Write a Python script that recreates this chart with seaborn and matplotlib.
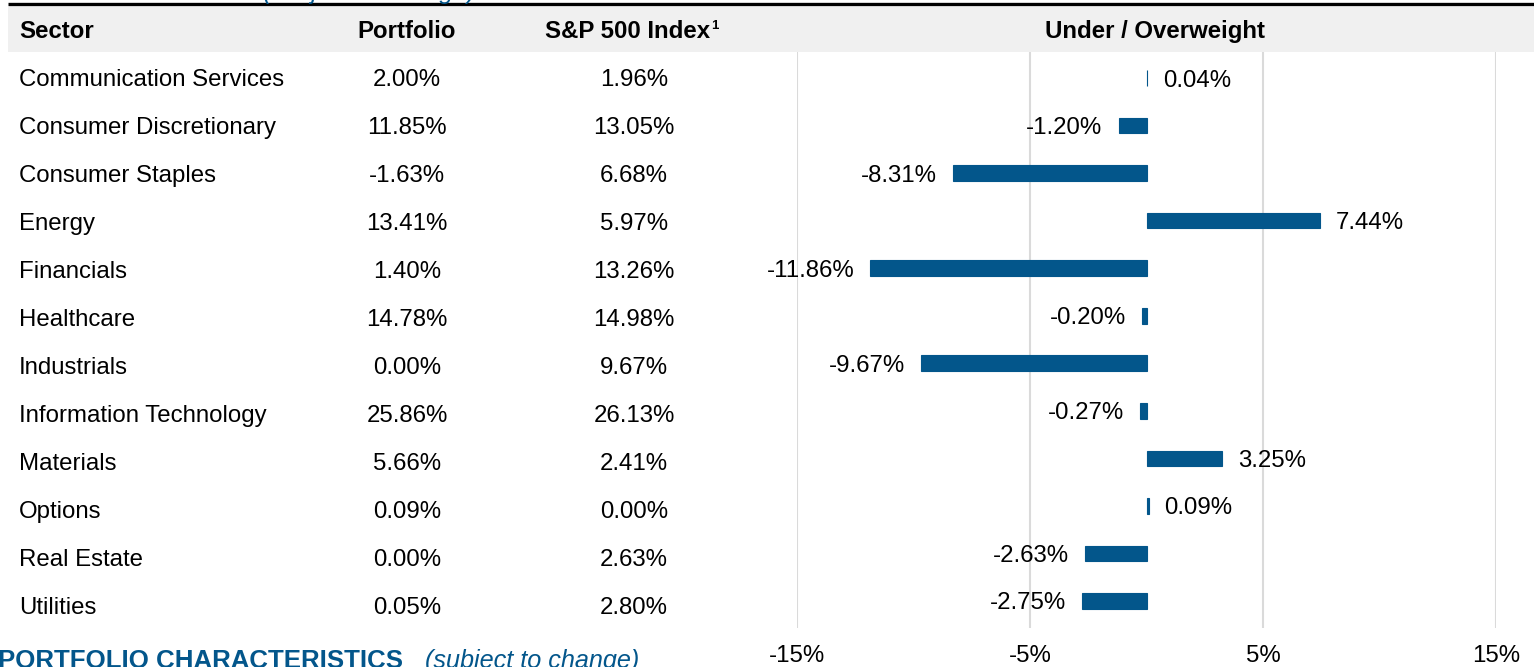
import pandas as pd
import seaborn as sns
import matplotlib.pyplot as plt
from matplotlib.patches import Rectangle

sectors = [
    'Communication Services', 'Consumer Discretionary', 'Consumer Staples',
    'Energy', 'Financials', 'Healthcare', 'Industrials',
    'Information Technology', 'Materials', 'Options', 'Real Estate',
    'Utilities',
]
portfolio = [2.00, 11.85, -1.63, 13.41, 1.40, 14.78, 0.00, 25.86, 5.66, 0.09, 0.00, 0.05]
index = [1.96, 13.05, 6.68, 5.97, 13.26, 14.98, 9.67, 26.13, 2.41, 0.00, 2.63, 2.80]
weight = [0.04, -1.20, -8.31, 7.44, -11.86, -0.20, -9.67, -0.27, 3.25, 0.09, -2.63, -2.75]
ticks = [-15, -5, 5, 15]

BLUE = '#03568B'
W, H = 1534, 667
FS = 17.3

sns.set_style('white')
plt.rcParams['font.family'] = ['Liberation Sans', 'DejaVu Sans']
plt.rcParams['text.color'] = 'black'
plt.rcParams['xtick.color'] = 'black'

fig = plt.figure(figsize=(W / 100, H / 100), dpi=100)

# background axes in pixel coordinates for the table part
bg = fig.add_axes([0, 0, 1, 1])
bg.set_xlim(0, W)
bg.set_ylim(H, 0)
bg.axis('off')

bg.add_patch(Rectangle((8, 7), W - 8, 45, color='#F0F0F0', lw=0))
bg.plot([8, W], [4, 4], color='black', lw=2.4, solid_capstyle='butt')

# cut-off titles above and below
bg.text(255, -1.5, 'SECTOR ALLOCATION', color=BLUE, fontsize=18,
        fontweight='bold', ha='right', va='baseline')
bg.text(263, -1.5, '(subject to change)', color=BLUE, fontsize=18,
        style='italic', ha='left', va='baseline')
bg.text(-2, 668, 'PORTFOLIO CHARACTERISTICS', color=BLUE, fontsize=18.6,
        fontweight='bold', ha='left', va='baseline')
bg.text(425, 668, '(subject to change)', color=BLUE, fontsize=18.2,
        style='italic', ha='left', va='baseline')

hdr = dict(fontsize=FS, fontweight='bold', va='center_baseline')
bg.text(19, 29, 'Sector', ha='left', **hdr)
bg.text(407, 29, 'Portfolio', ha='center', **hdr)
bg.text(710, 29, 'S&P 500 Index', ha='right', **hdr)
bg.text(711, 26, '1', ha='left', va='center', fontsize=9.5, fontweight='bold')
bg.text(1155, 29, 'Under / Overweight', ha='center', **hdr)

for i, (s, p, q) in enumerate(zip(sectors, portfolio, index)):
    y = 77.5 + 48 * i
    bg.text(19, y, s, ha='left', va='center_baseline', fontsize=FS)
    bg.text(407, y, f'{p:.2f}%', ha='center', va='center_baseline', fontsize=FS)
    bg.text(634, y, f'{q:.2f}%', ha='center', va='center_baseline', fontsize=FS)

# bar axes
ax = fig.add_axes([797 / W, (H - 628) / H, (1496 - 797) / W, (628 - 52) / H])
ax.patch.set_alpha(0)
df = pd.DataFrame({'sector': sectors, 'weight': weight})
sns.barplot(data=df, x='weight', y='sector', orient='h', color=BLUE,
            saturation=1, width=0.33, ax=ax, zorder=3,
            edgecolor=BLUE, linewidth=0.8)

for i, v in enumerate(weight):
    off = 11.5 if v >= 0 else -11.5
    ax.annotate(f'{v:.2f}%', xy=(v, i), xytext=(off, 0),
                textcoords='offset points', ha='left' if v >= 0 else 'right',
                va='center_baseline', fontsize=FS)

ax.set_xlim(-15, 15)
ax.set_ylim(len(sectors) - 1 + 0.568, -0.547)
ax.set_xticks(ticks)
ax.set_xticklabels([f'{t}%' for t in ticks], fontsize=FS)
ax.tick_params(axis='x', length=0, pad=12)
ax.set_yticks([])
ax.set_xlabel('')
ax.set_ylabel('')
ax.grid(axis='x', color='#DADADA', lw=1.5)
ax.set_axisbelow(True)
for sp in ax.spines.values():
    sp.set_visible(False)

fig.savefig('out.png', dpi=100)
